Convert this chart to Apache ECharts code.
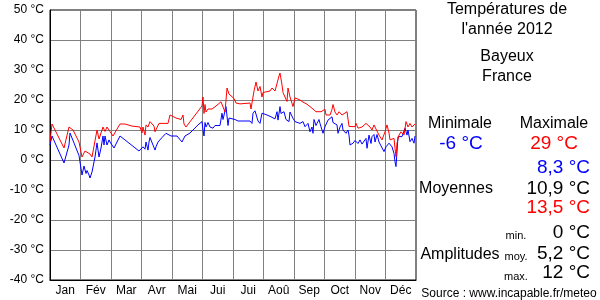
<!DOCTYPE html>
<html><head><meta charset="utf-8">
<script src="https://cdn.jsdelivr.net/npm/echarts@6/dist/echarts.min.js"></script>
<style>html,body{margin:0;padding:0;background:#fff}#c{width:600px;height:300px}</style>
</head><body><div id="c"></div>
<script>
const months = ["Jan","Fév","Mar","Avr","Mai","Jui","Jui","Aoû","Sep","Oct","Nov","Déc"];
const yTicks = [-40,-30,-20,-10,0,10,20,30,40,50];
// daily maximum (day of year index, °C)
const maxDays = [0,2,14,19,23,29,32,35,37,40,42,47,49,53,55,57,60,63,67,70,75,82,90,92,93,95,96,98,100,104,105,109,118,120,126,131,133,134,136,152,153,154,155,156,158,162,166,171,173,175,177,179,181,184,186,190,200,201,204,206,208,210,212,213,215,220,222,225,229,230,232,233,235,237,238,240,243,245,247,250,253,257,260,262,263,266,271,273,275,276,280,282,283,285,287,289,292,294,297,298,299,305,306,308,312,316,318,320,322,324,325,329,332,335,337,339,340,344,345,346,347,349,351,354,356,358,360,362,365];
const maxTemps = [6,12,4,11,10,6,1,3,3,2,1,10,7,11,9.5,11,9.5,8,10.3,12,12,11.3,11,9,11,8.3,11.7,11,12.8,11.3,9.4,12.2,12.2,15,14,13.5,15,12,11,18,21,15.5,18.5,16,17,17,18,19.4,19.7,16,24,22,22.5,20.5,19,18.7,19,17,23,26,23,24.5,21,22.5,23,23,24,23,28,29,25,22.5,21,19.5,24,21,17.8,20.7,21.1,20,19.3,18.6,17.8,18.3,17,16.1,16.1,15.8,16.9,15,15,16.9,18.5,16,15,16.1,15,15.5,16.1,16,11.2,11.1,12.2,10.6,11,12.2,12.8,11,10,11.7,11,8.3,6.7,9.4,11.7,9,6.7,7.2,3.9,1.1,5.6,8.3,9.4,8.3,12.8,11,12.2,11,12];
// daily minimum
const minDays = [0,2,14,19,20,26,29,32,34,36,37,39,40,42,45,47,49,51,53,54,55,57,59,60,64,70,89,91,93,95,96,98,99,100,103,105,106,108,112,116,118,121,127,132,133,135,140,148,152,153,154,155,156,158,160,163,165,170,172,173,176,178,179,181,185,188,200,202,203,205,208,210,212,214,217,221,223,225,227,228,230,231,234,236,237,239,240,243,245,247,250,253,255,258,260,262,263,264,266,267,269,270,272,273,275,278,282,283,287,288,290,292,293,296,298,299,300,303,305,307,308,310,312,316,317,319,321,322,324,325,327,329,330,334,336,339,342,344,345,346,348,350,352,355,357,358,360,362,364,365];
const minTemps = [5,8,-1,5,9,4,1.5,-5,-2,-4.5,-3.5,-5,-6,-4,1,5.7,1,4,8,5,8,5,6.7,6,4,8,3,3.6,4.4,3.6,6,3.3,6,7.5,5,3.3,4.4,6,7.5,8.9,9,8,8,6,6.7,8,9,11.7,12.8,10,8,12.5,11,12.5,11,10.6,11.5,11.5,15.6,13.5,17.8,11.5,14,13.5,13.5,13,13,12.2,15.6,16.4,13,12.2,15.6,16,15,14.4,15,13.7,16.1,13.3,17.8,15.5,16.1,13.5,14,12.8,16,13.9,12.8,13.3,12.2,12.8,11.1,12.2,9.4,11,8.9,13.5,11.5,12.2,13.5,12.2,10,8.9,11.1,13.3,14.4,12.5,11.7,8.9,11,12.2,10,8.9,10,8.3,5,5.6,6.5,6.7,5.5,6.7,5.3,7.2,3.9,8.3,5.5,7.8,8.5,6,8.5,6,5.6,2.8,4.4,5.6,4.4,2.2,-0.6,-2.2,7.8,8.3,7.8,10.6,8.3,10,6.1,7.2,5.6,8];

const maxData = maxDays.map((d,i)=>[d,maxTemps[i]]);
const minData = minDays.map((d,i)=>[d,minTemps[i]]);

const chart = echarts.init(document.getElementById('c'), null, {renderer:'canvas'});
const F = '"Liberation Sans", Arial, sans-serif';
function t(x,y,text,opt){return Object.assign({type:'text',x:x,y:y,style:Object.assign({text:text,font:'16px '+F,fill:'#000',align:'center',verticalAlign:'middle'},opt||{})});}
chart.setOption({
  animation:false,
  grid:{left:50,right:184,top:10,bottom:20,show:true,borderColor:'#000',borderWidth:1,containLabel:false},
  xAxis:[
    {type:'category',data:months,boundaryGap:true,position:'bottom',
     axisLine:{show:true,onZero:false,lineStyle:{color:'#000'}},axisTick:{show:false},
     axisLabel:{color:'#000',fontFamily:F,fontSize:12,margin:5},
     splitLine:{show:true,lineStyle:{color:'#808080',width:1}}},
    {type:'value',min:0,max:366,show:false}
  ],
  yAxis:{type:'value',min:yTicks[0],max:yTicks[yTicks.length-1],interval:10,
     axisLine:{show:true,onZero:false,lineStyle:{color:'#000'}},axisTick:{show:false},
     axisLabel:{color:'#000',fontFamily:F,fontSize:12,margin:6,formatter:v=>v+' °C'},
     splitLine:{show:true,lineStyle:{color:'#808080',width:1}}},
  series:[
    {type:'line',xAxisIndex:1,data:minData,showSymbol:false,symbol:'none',lineStyle:{color:'#0000ff',width:1},z:3},
    {type:'line',xAxisIndex:1,data:maxData,showSymbol:false,symbol:'none',lineStyle:{color:'#ff0000',width:1},z:3}
  ],
  graphic:[
    t(507,10,'Températures de'),
    t(507,30,"l'année 2012"),
    t(507,57,'Bayeux'),
    t(507,77,'France'),
    t(460,124,'Minimale'),
    t(554,124,'Maximale'),
    t(461,144,'-6 °C',{font:'19px '+F,fill:'#0000ff'}),
    t(554,144,'29 °C',{font:'19px '+F,fill:'#ff0000'}),
    t(590,168,'8,3 °C',{font:'19px '+F,fill:'#0000ff',align:'right'}),
    t(456,189,'Moyennes'),
    t(590,189,'10,9 °C',{font:'19px '+F,fill:'#000',align:'right'}),
    t(590,208,'13,5 °C',{font:'19px '+F,fill:'#ff0000',align:'right'}),
    t(516,236,'min.',{font:'11px '+F}),
    t(590,233,'0 °C',{font:'19px '+F,align:'right'}),
    t(460,255,'Amplitudes'),
    t(516,257,'moy.',{font:'11px '+F}),
    t(590,254,'5,2 °C',{font:'19px '+F,align:'right'}),
    t(516,277,'max.',{font:'11px '+F}),
    t(590,273,'12 °C',{font:'19px '+F,align:'right'}),
    t(509,294,'Source : www.incapable.fr/meteo',{font:'12px '+F})
  ]
});
</script></body></html>
